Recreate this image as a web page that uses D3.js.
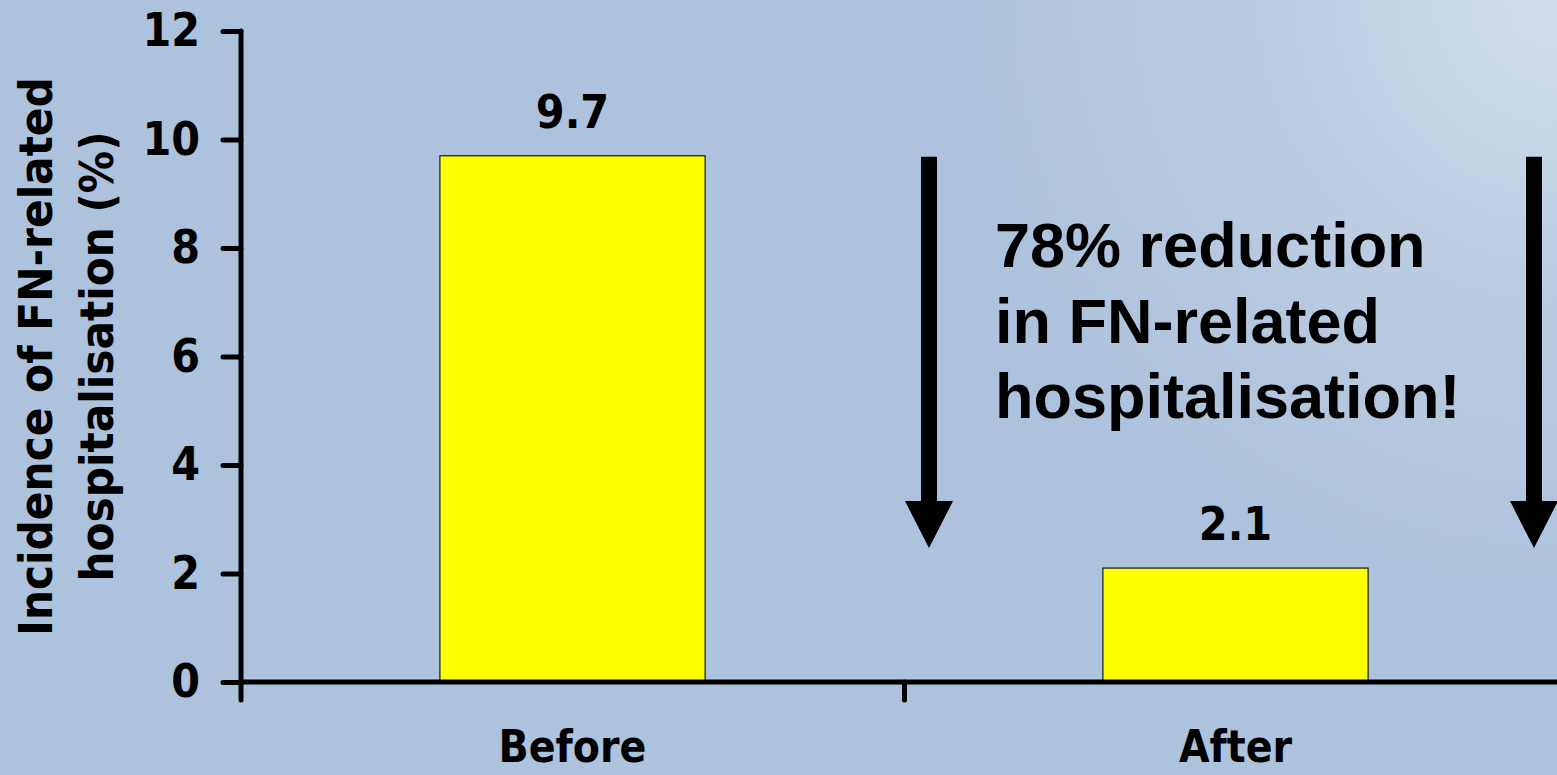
<!DOCTYPE html>
<html>
<head>
<meta charset="utf-8">
<script src="https://cdn.jsdelivr.net/npm/d3@7"></script>
<style>
  html, body { margin: 0; padding: 0; overflow: hidden; }
  svg { display: block; }
  .cond { font-family: 'DejaVu Sans Condensed', 'DejaVu Sans', sans-serif; font-stretch: condensed; font-weight: bold; }
  .arial { font-family: 'Liberation Sans', Arial, sans-serif; font-weight: bold; }
</style>
</head>
<body>
<script>
// ---- data ----
const categories = ["Before", "After"];
const values = [9.7, 2.1];
const valueLabels = ["9.7", "2.1"];
const yTicks = [0, 2, 4, 6, 8, 10, 12];
const yTitleLines = ["Incidence of FN-related", "hospitalisation (%)"];
const annotationLines = ["78% reduction", "in FN-related", "hospitalisation!"];

// ---- layout ----
const W = 1557, H = 775;
const svg = d3.select("body").append("svg").attr("width", W).attr("height", H);

const defs = svg.append("defs");
const grad = defs.append("radialGradient").attr("id", "bg")
  .attr("gradientUnits", "userSpaceOnUse")
  .attr("cx", W).attr("cy", 0).attr("r", 700);
grad.append("stop").attr("offset", "0").attr("stop-color", "#d2dded");
grad.append("stop").attr("offset", "0.4").attr("stop-color", "#bccde2");
grad.append("stop").attr("offset", "0.85").attr("stop-color", "#adc2dc");
grad.append("stop").attr("offset", "1").attr("stop-color", "#adc2dc");
svg.append("rect").attr("width", W).attr("height", H).attr("fill", "url(#bg)");

const x0 = 241, x1 = 1567, yTop = 31, yBot = 682;
const x = d3.scaleBand().domain(categories).range([x0, x1]).paddingInner(0.6).paddingOuter(0.3);
const y = d3.scaleLinear().domain([0, 12]).range([yBot, yTop]);
const xDiv = d3.scaleLinear().domain([0, categories.length]).range([x0, x1]);

// bars
svg.append("g").selectAll("rect").data(values).join("rect")
  .attr("x", (d, i) => x(categories[i]))
  .attr("y", d => y(d))
  .attr("width", x.bandwidth())
  .attr("height", d => y(0) - y(d))
  .attr("fill", "#ffff00")
  .attr("stroke", "#1a1a1a")
  .attr("stroke-width", 1.2);

// value labels
svg.append("g").selectAll("text").data(values).join("text")
  .attr("class", "cond")
  .attr("x", (d, i) => x(categories[i]) + x.bandwidth() / 2)
  .attr("y", d => y(d) - 28)
  .attr("text-anchor", "middle")
  .attr("font-size", 46)
  .attr("fill", "#000")
  .text((d, i) => valueLabels[i]);

// y axis
const yAxis = svg.append("g").attr("transform", `translate(${x0},0)`)
  .call(d3.axisLeft(y).tickValues(yTicks).tickFormat(d3.format("d")).tickSize(18).tickPadding(23));
yAxis.select(".domain").remove();
yAxis.selectAll(".tick line").attr("stroke", "#000").attr("stroke-width", 5).attr("stroke-linecap", "round");
yAxis.selectAll(".tick text").attr("class", "cond").attr("font-size", 46).attr("fill", "#000");
yAxis.append("line").attr("x1", 0).attr("x2", 0).attr("y1", y(12)).attr("y2", yBot + 18)
  .attr("stroke", "#000").attr("stroke-width", 5).attr("stroke-linecap", "round");

// x axis: divider ticks + line
const xAxis = svg.append("g").attr("transform", `translate(0,${yBot})`)
  .call(d3.axisBottom(xDiv).tickValues([1]).tickSize(18).tickFormat(""));
xAxis.select(".domain").remove();
xAxis.selectAll(".tick line").attr("stroke", "#000").attr("stroke-width", 5).attr("stroke-linecap", "round");
xAxis.append("line").attr("x1", x0).attr("x2", W + 10).attr("y1", 0).attr("y2", 0)
  .attr("stroke", "#000").attr("stroke-width", 5);

// category labels
const catAxis = svg.append("g").attr("transform", `translate(0,${yBot})`)
  .call(d3.axisBottom(x).tickSize(0).tickPadding(49));
catAxis.select(".domain").remove();
catAxis.selectAll(".tick text").attr("class", "cond").attr("font-size", 44).attr("fill", "#000");

// y title
const yt = svg.append("text").attr("class", "cond").attr("font-size", 47).attr("fill", "#000")
  .attr("text-anchor", "middle")
  .attr("transform", `translate(52,${(yTop + yBot) / 2}) rotate(-90)`);
yTitleLines.forEach((t, i) => {
  yt.append("tspan").attr("x", 0).attr("y", i * 61).text(t);
});

// arrows
function arrow(cx, yStart, yEnd) {
  const shaft = 16, headW = 48, headH = 47;
  const p = d3.path();
  p.moveTo(cx - shaft / 2, yStart);
  p.lineTo(cx + shaft / 2, yStart);
  p.lineTo(cx + shaft / 2, yEnd - headH);
  p.lineTo(cx + headW / 2, yEnd - headH);
  p.lineTo(cx, yEnd);
  p.lineTo(cx - headW / 2, yEnd - headH);
  p.lineTo(cx - shaft / 2, yEnd - headH);
  p.closePath();
  svg.append("path").attr("d", p.toString()).attr("fill", "#000");
}
const arrowTop = y(values[0]) + 1;
const arrowTip = y(values[1]) - 20;
arrow(929, arrowTop, arrowTip);
arrow(1534, arrowTop, arrowTip);

// annotation
const ann = svg.append("text").attr("class", "arial").attr("font-size", 63).attr("fill", "#000");
annotationLines.forEach((t, i) => {
  ann.append("tspan").attr("x", 995).attr("y", 267 + i * 75.5).text(t);
});
</script>
</body>
</html>
